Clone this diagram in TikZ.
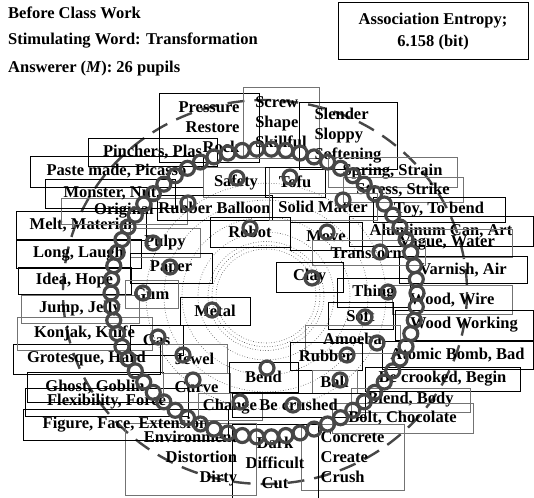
\documentclass[tikz,border=0pt]{standalone}
\usepackage{fontspec}
\setmainfont{Liberation Serif}
\usepackage{tikz}

\tikzset{
  wbox/.style={draw=black, line width=0.8pt, inner sep=0pt, align=center,
    font=\fontsize{16.5}{20}\selectfont\bfseries},
  gbox/.style={wbox, draw=black!55},
  box/.style 2 args={minimum width=#1pt, minimum height=#2pt},
  hit/.style={draw=black!72, line width=3.2pt},
  orbit/.style={draw=black!75, dotted, line width=0.6pt},
  outer/.style={draw=black!72, line width=2.4pt, dash pattern=on 17pt off 10pt},
}

\begin{document}
\begin{tikzpicture}[x=1pt, y=-1pt]
\useasboundingbox (0,0) rectangle (534,497);
% heading
\begin{scope}[every node/.style={anchor=west, inner sep=0pt, font=\fontsize{16.5}{20}\selectfont\bfseries}]
\node (title) at (8,13) {Before Class Work};
\node (stim) at (8,41) {Stimulating Word: Transformation};
\node (answ) at (8,69) {Answerer (\textit{M}): 26 pupils};
\end{scope}
\node[wbox, box={190}{57}, line width=1pt, font=\fontsize{16.5}{22}\selectfont\bfseries] (entropy) at (433,31.5) {Association Entropy;\\6.158 (bit)};

% frequency orbits and the outer boundary
\foreach \r in {50,54,58,68,84,102,120}
  \draw[orbit] (266,296) ellipse ({\r} and {0.94*\r});
\draw[outer] (265,292) ellipse (202 and 192);

% words named once (outer ring)
\node[wbox, box={100}{69}, align=right] (pressure) at (209,127.5) {Pressure\\Restore\\Rock};
\node[gbox, box={76}{71}, align=left] (screw) at (281,122.5) {Screw\\Shape\\Skillful};
\node[wbox, box={98}{67}, align=left] (slender) at (348,135.5) {Slender\\Sloppy\\Softening};
\node[gbox, box={129}{30}] (spring) at (392.5,172) {Spring, Strain};
\node[gbox, box={120}{25}] (stress) at (403,190) {Stress, Strike};
\node[wbox, box={132}{25}] (toy) at (439,210) {Toy, To bend};
\node[wbox, box={184}{30}] (alucan) at (441,231) {Aluminum Can, Art};
\node[gbox, box={130}{28}] (vague) at (447,243) {Vague, Water};
\node[wbox, box={128}{27}] (varnish) at (463,270) {Varnish, Air};
\node[gbox, box={120}{29}] (woodwire) at (452,300) {Wood, Wire};
\node[wbox, box={138}{30}] (woodwork) at (464,325) {Wood Working};
\node[wbox, box={151}{28}] (atomic) at (457.5,355) {Atomic Bomb, Bad};
\node[wbox, box={155}{24}] (crooked) at (442.5,379) {Be crooked, Begin};
\node[gbox, box={119}{24}] (blend) at (410.5,400) {Blend, Body};
\node[gbox, box={141}{30}] (bolt) at (402.5,418) {Bolt, Chocolate};
\node[gbox, box={103}{66}, align=left] (concrete) at (352.5,457) {Concrete\\Create\\Crush};
\node[wbox, box={86}{77}] (dark) at (275,463) {Dark\\Difficult\\Cut};
\node[gbox, box={131}{72}, align=right] (environ) at (190.5,459) {Environment\\Distortion\\Dirty};
\node[wbox, box={205}{31}] (figure) at (125.5,424.5) {Figure, Face, Extension};
\node[wbox, box={163}{28}] (flexi) at (106.5,402) {Flexibility, Force};
\node[wbox, box={136}{30}] (ghost) at (95,387) {Ghost, Goblin};
\node[wbox, box={147}{30}] (grotesque) at (86.5,359) {Grotesque, Hard};
\node[gbox, box={135}{33}] (konjak) at (84.5,333.5) {Konjak, Knife};
\node[gbox, box={118}{28}] (jump) at (80,309) {Jump, Jelly};
\node[wbox, box={113}{27}] (idea) at (74.5,280.5) {Idea, Hope};
\node[wbox, box={125}{29}] (long) at (78.5,253.5) {Long, Laugh};
\node[wbox, box={130}{29}] (melt) at (81,225.5) {Melt, Material};
\node[gbox, box={126}{26}] (original) at (124,211) {Original};
\node[wbox, box={130}{29}] (monster) at (110,193.5) {Monster, Nut};
\node[wbox, box={173}{31}] (paste) at (116.5,171.5) {Paste made, Picasso};
\node[wbox, box={129}{28}] (pinchers) at (152.5,152) {Pinchers, Plas};

% words named more than once
\node[gbox, box={66}{30}] (safety) at (236,182) {Safety};
\node[wbox, box={60}{30}] (tofu) at (295,182) {Tofu};
\node[wbox, box={115}{25}] (balloon) at (214.5,207.5) {Rubber Balloon};
\node[gbox, box={108}{27}] (solid) at (323,206.5) {Solid Matter};
\node[wbox, box={80}{30}] (robot) at (250,232) {Robot};
\node[wbox, box={72}{28}] (move) at (326,236) {Move};
\node[gbox, box={113}{25}] (transform) at (368.5,252.5) {Transform};
\node[wbox, box={67}{30}] (clay) at (309.5,277) {Clay};
\node[gbox, box={70}{29}] (pulpy) at (165,242.5) {Pulpy};
\node[wbox, box={82}{30}] (paper) at (171,268) {Paper};
\node[gbox, box={53}{28}] (gum) at (151.5,294) {Gum};
\node[wbox, box={70}{28}] (metal) at (215,311) {Metal};
\node[wbox, box={73}{29}] (thing) at (373.5,292.5) {Thing};
\node[wbox, box={65}{27}] (soft) at (360.5,315.5) {Soft};
\node[gbox, box={95}{28}] (amoeba) at (352.5,339) {Amoeba};
\node[wbox, box={53}{30}] (gas) at (156.5,340) {Gas};
\node[gbox, box={65}{29}] (jewel) at (194.5,358.5) {Jewel};
\node[gbox, box={67}{29}] (curve) at (196.5,387.5) {Curve};
\node[wbox, box={69}{30}] (bend) at (263.5,377) {Bend};
\node[wbox, box={72}{28}] (rubber) at (326,356) {Rubber};
\node[gbox, box={45}{23}] (ball) at (334.5,381.5) {Ball};
\node[gbox, box={64}{27}] (change) at (230,406.5) {Change};
\node[wbox, box={133}{24}] (crushed) at (298.5,405) {Be crushed};

% word marks on the orbits
\foreach \x/\y in {237/178, 290/177, 188/203, 343/200, 250/228, 327/232,
    380/252, 312/278, 153/243, 170/267, 143/293, 212/310, 388/292, 365/317,
    377/343, 158/337, 183/355, 193/380, 267/368, 347/355, 340/380, 240/402, 293/405}
  \draw[hit] (\x,\y) circle[radius=7];
% words named once sit on the outermost ring
\foreach \i in {0,...,65}
  \draw[hit] ({264+153*cos(\i*5.4545)},{293+144*sin(\i*5.4545)}) circle[radius=7];
\end{tikzpicture}
\end{document}
